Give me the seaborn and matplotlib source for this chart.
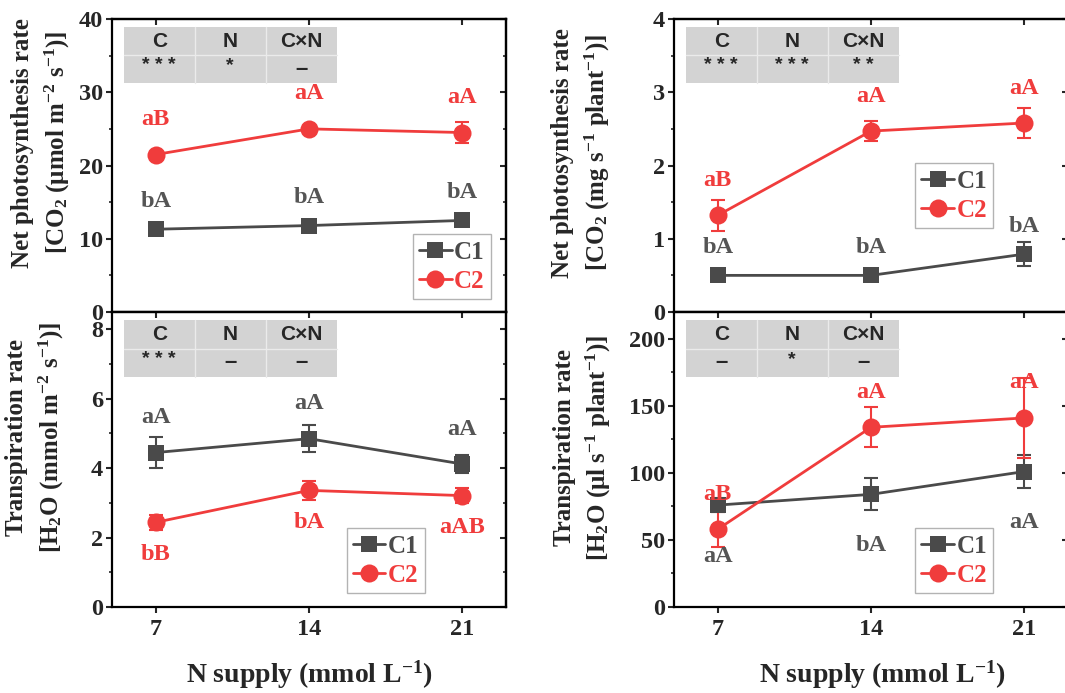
import numpy as np
import pandas as pd
import matplotlib
matplotlib.use("Agg")
import matplotlib.pyplot as plt
import seaborn as sns
from matplotlib.patches import Rectangle
from matplotlib.lines import Line2D
from matplotlib.ticker import MultipleLocator, FixedLocator

# ---------------- data ----------------
n_supply = [7, 14, 21]
treatments = ["C1", "C2"]
effects = ["C", "N", "C×N"]

# Net photosynthesis rate, area basis (umol m-2 s-1)
pn_area_c1 = [11.3, 11.8, 12.5]
pn_area_c1_se = [0.3, 0.3, 0.3]
pn_area_c2 = [21.5, 25.0, 24.5]
pn_area_c2_se = [0.3, 0.4, 1.4]
pn_area_c1_letters = ["bA", "bA", "bA"]
pn_area_c2_letters = ["aB", "aA", "aA"]
pn_area_anova = ["* * *", "*", "–"]

# Net photosynthesis rate, plant basis (mg s-1 plant-1)
pn_plant_c1 = [0.50, 0.50, 0.79]
pn_plant_c1_se = [0.04, 0.04, 0.16]
pn_plant_c2 = [1.32, 2.47, 2.58]
pn_plant_c2_se = [0.21, 0.14, 0.21]
pn_plant_c1_letters = ["bA", "bA", "bA"]
pn_plant_c2_letters = ["aB", "aA", "aA"]
pn_plant_anova = ["* * *", "* * *", "* *"]

# Transpiration rate, area basis (mmol m-2 s-1)
tr_area_c1 = [4.45, 4.85, 4.12]
tr_area_c1_se = [0.45, 0.39, 0.27]
tr_area_c2 = [2.44, 3.36, 3.21]
tr_area_c2_se = [0.22, 0.28, 0.22]
tr_area_c1_letters = ["aA", "aA", "aA"]
tr_area_c2_letters = ["bB", "bA", "aAB"]
tr_area_anova = ["* * *", "–", "–"]

# Transpiration rate, plant basis (ul s-1 plant-1)
tr_plant_c1 = [76, 84, 101]
tr_plant_c1_se = [5, 12, 12]
tr_plant_c2 = [58, 134, 141]
tr_plant_c2_se = [13, 15, 30]
tr_plant_c1_letters = ["aA", "bA", "aA"]
tr_plant_c2_letters = ["aB", "aA", "aA"]
tr_plant_anova = ["–", "*", "–"]

# ---------------- style ----------------
sns.set_theme(style="white")
plt.rcParams["font.family"] = ["Liberation Serif", "DejaVu Serif"]
plt.rcParams.update({
    "font.weight": "bold",
    "mathtext.fontset": "custom",
    "mathtext.rm": "Liberation Serif:bold",
    "mathtext.it": "Liberation Serif:italic:bold",
    "mathtext.bf": "Liberation Serif:bold",
    "axes.linewidth": 1.6,
    "axes.edgecolor": "black",
})

C1_COLOR = "#4a4a4a"
C1_TEXT = "#555555"
C2_COLOR = "#f03c3c"
TABLE_BG = "#d3d3d3"
SANS = ["Liberation Sans", "DejaVu Sans"]

fig = plt.figure(figsize=(10.65, 6.93), dpi=100)

W = 394 / 1065
x_left, x_right = 112 / 1065, 674 / 1065
y_top, h_top = 1 - 312 / 693, 293 / 693
y_bot, h_bot = 1 - 607 / 693, 295 / 693

panels = [
    dict(pos=[x_left, y_top, W, h_top], c1=pn_area_c1, c1e=pn_area_c1_se, c2=pn_area_c2, c2e=pn_area_c2_se,
         l1=pn_area_c1_letters, l2=pn_area_c2_letters, anova=pn_area_anova,
         ylim=(0, 40), major=10, minor=5, off1=28, off2=35, bottom=False,
         ylabel="Net photosynthesis rate\n[CO$_2$ (μmol m$^{-2}$ s$^{-1}$)]", ylx=-0.178, yly=0.578,
         leg=(0.962, 0.044)),
    dict(pos=[x_right, y_top, W, h_top], c1=pn_plant_c1, c1e=pn_plant_c1_se, c2=pn_plant_c2, c2e=pn_plant_c2_se,
         l1=pn_plant_c1_letters, l2=pn_plant_c2_letters, anova=pn_plant_anova,
         ylim=(0, 4), major=1, minor=0.5, off1=28, off2=35, bottom=False,
         ylabel="Net photosynthesis rate\n[CO$_2$ (mg s$^{-1}$ plant$^{-1}$)]", ylx=-0.234, yly=0.544,
         leg=(0.81, 0.286)),
    dict(pos=[x_left, y_bot, W, h_bot], c1=tr_area_c1, c1e=tr_area_c1_se, c2=tr_area_c2, c2e=tr_area_c2_se,
         l1=tr_area_c1_letters, l2=tr_area_c2_letters, anova=tr_area_anova,
         ylim=(0, 8.5), major=2, minor=1, off1=35, off2=-32, bottom=True,
         ylabel="Transpiration rate\n[H$_2$O (mmol m$^{-2}$ s$^{-1}$)]", ylx=-0.195, yly=0.576,
         leg=(0.794, 0.047)),
    dict(pos=[x_right, y_bot, W, h_bot], c1=tr_plant_c1, c1e=tr_plant_c1_se, c2=tr_plant_c2, c2e=tr_plant_c2_se,
         l1=tr_plant_c1_letters, l2=tr_plant_c2_letters, anova=tr_plant_anova,
         ylim=(0, 220), major=50, minor=25, off1=-51, off2=35, bottom=True,
         ylabel="Transpiration rate\n[H$_2$O (μl s$^{-1}$ plant$^{-1}$)]", ylx=-0.231, yly=0.539,
         leg=(0.81, 0.047)),
]

for p in panels:
    ax = fig.add_axes(p["pos"])
    df = pd.DataFrame({
        "N": n_supply * 2,
        "value": list(p["c1"]) + list(p["c2"]),
        "se": list(p["c1e"]) + list(p["c2e"]),
        "Treatment": ["C1"] * 3 + ["C2"] * 3,
    })
    styles = {"C1": dict(color=C1_COLOR, marker="s", ms=11, tcol=C1_TEXT, letters=p["l1"], off=p["off1"]),
              "C2": dict(color=C2_COLOR, marker="o", ms=13, tcol=C2_COLOR, letters=p["l2"], off=p["off2"])}
    for tr in treatments:
        st = styles[tr]
        sub = df[df["Treatment"] == tr]
        ax.errorbar(sub["N"], sub["value"], yerr=sub["se"], fmt="none", ecolor=st["color"],
                    elinewidth=1.5, capsize=5, capthick=1.5, zorder=3)
        sns.lineplot(data=sub, x="N", y="value", color=st["color"], marker=st["marker"],
                     markersize=st["ms"], markeredgewidth=0, linewidth=2, ax=ax,
                     errorbar=None, label=tr, legend=False, zorder=4)
        for xv, yv, lab in zip(sub["N"], sub["value"], st["letters"]):
            ax.annotate(lab, (xv, yv), xytext=(0, st["off"]), textcoords="offset pixels",
                        ha="center", va="center", fontsize=17.5, fontweight="bold",
                        color=st["tcol"], zorder=5)

    ax.set_xlim(5, 23)
    ax.set_ylim(*p["ylim"])
    ax.set_xticks(n_supply)
    ax.yaxis.set_major_locator(MultipleLocator(p["major"]))
    ax.yaxis.set_minor_locator(MultipleLocator(p["minor"]))
    ax.tick_params(axis="both", which="major", direction="out", length=4.5, width=1.5,
                   labelsize=17.5, pad=2, left=True, bottom=True)
    ax.tick_params(axis="y", which="minor", direction="out", length=2.5, width=1.2, left=True)
    ax.tick_params(axis="x", pad=4)
    if not p["bottom"]:
        ax.tick_params(axis="x", labelbottom=False)
    for lbl in ax.get_yticklabels() + ax.get_xticklabels():
        lbl.set_fontweight("bold")
    ax.set_xlabel("")
    ax.set_ylabel(p["ylabel"], fontsize=18, fontweight="bold", linespacing=1.4)
    ax.yaxis.label.set_va("center")
    ax.yaxis.set_label_coords(p["ylx"], p["yly"])
    for s in ax.spines.values():
        s.set_linewidth(1.6)

    # inward ticks on top and right
    secy = ax.secondary_yaxis("right")
    secy.yaxis.set_major_locator(MultipleLocator(p["major"]))
    secy.yaxis.set_minor_locator(MultipleLocator(p["minor"]))
    secy.tick_params(which="major", direction="in", length=4.5, width=1.5, labelright=False)
    secy.tick_params(which="minor", direction="in", length=2.5, width=1.2)
    secy.spines["right"].set_linewidth(1.6)
    secx = ax.secondary_xaxis("top")
    secx.xaxis.set_major_locator(FixedLocator(n_supply))
    secx.tick_params(which="major", direction="in", length=4.5, width=1.5, labeltop=False)
    secx.spines["top"].set_linewidth(1.6)

    # ANOVA table
    tx0, tx1, ty0, ty1 = 0.03, 0.57, 0.78, 0.972
    ymid = (ty0 + ty1) / 2
    ax.add_patch(Rectangle((tx0, ty0), tx1 - tx0, ty1 - ty0, transform=ax.transAxes,
                           facecolor=TABLE_BG, edgecolor="none", zorder=2))
    cw = (tx1 - tx0) / 3
    for i in range(1, 3):
        ax.plot([tx0 + i * cw] * 2, [ty0, ty1], transform=ax.transAxes, color="#ebebeb", lw=1, zorder=2.1)
    ax.plot([tx0, tx1], [ymid, ymid], transform=ax.transAxes, color="#ebebeb", lw=1, zorder=2.1)
    for i, (eff, sig) in enumerate(zip(effects, p["anova"])):
        cx = tx0 + (i + 0.5) * cw
        ax.text(cx, (ymid + ty1) / 2, eff, transform=ax.transAxes, ha="center", va="center",
                fontsize=15, fontweight="bold", family=SANS, zorder=2.2)
        star = "*" in sig
        ax.text(cx, (ty0 + ymid) / 2 + (0.012 if star else 0), sig, transform=ax.transAxes,
                ha="center", va="center", fontsize=14 if star else 16, fontweight="bold",
                family=SANS, zorder=2.2)

    # legend
    handles = [Line2D([], [], color=C1_COLOR, marker="s", ms=11, mew=0, lw=2),
               Line2D([], [], color=C2_COLOR, marker="o", ms=13, mew=0, lw=2)]
    leg = ax.legend(handles, treatments, loc="lower right", bbox_to_anchor=p["leg"],
                    borderaxespad=0, frameon=True, fancybox=False, handlelength=1.3,
                    handletextpad=0.1, labelspacing=0.25, borderpad=0.25,
                    prop=dict(family="Liberation Serif", weight="bold", size=18))
    leg.get_frame().set_edgecolor("#a0a0a0")
    leg.get_frame().set_linewidth(1.0)
    for t, c in zip(leg.get_texts(), [C1_COLOR, C2_COLOR]):
        t.set_color(c)

    if p["bottom"]:
        ax.set_xlabel("N supply (mmol L$^{-1}$)", fontsize=20, fontweight="bold")
        ax.xaxis.label.set_va("center")
        ax.xaxis.set_label_coords(0.5 if p["pos"][0] < 0.5 else 0.53, -0.23)

fig.savefig("out.png", dpi=100)
